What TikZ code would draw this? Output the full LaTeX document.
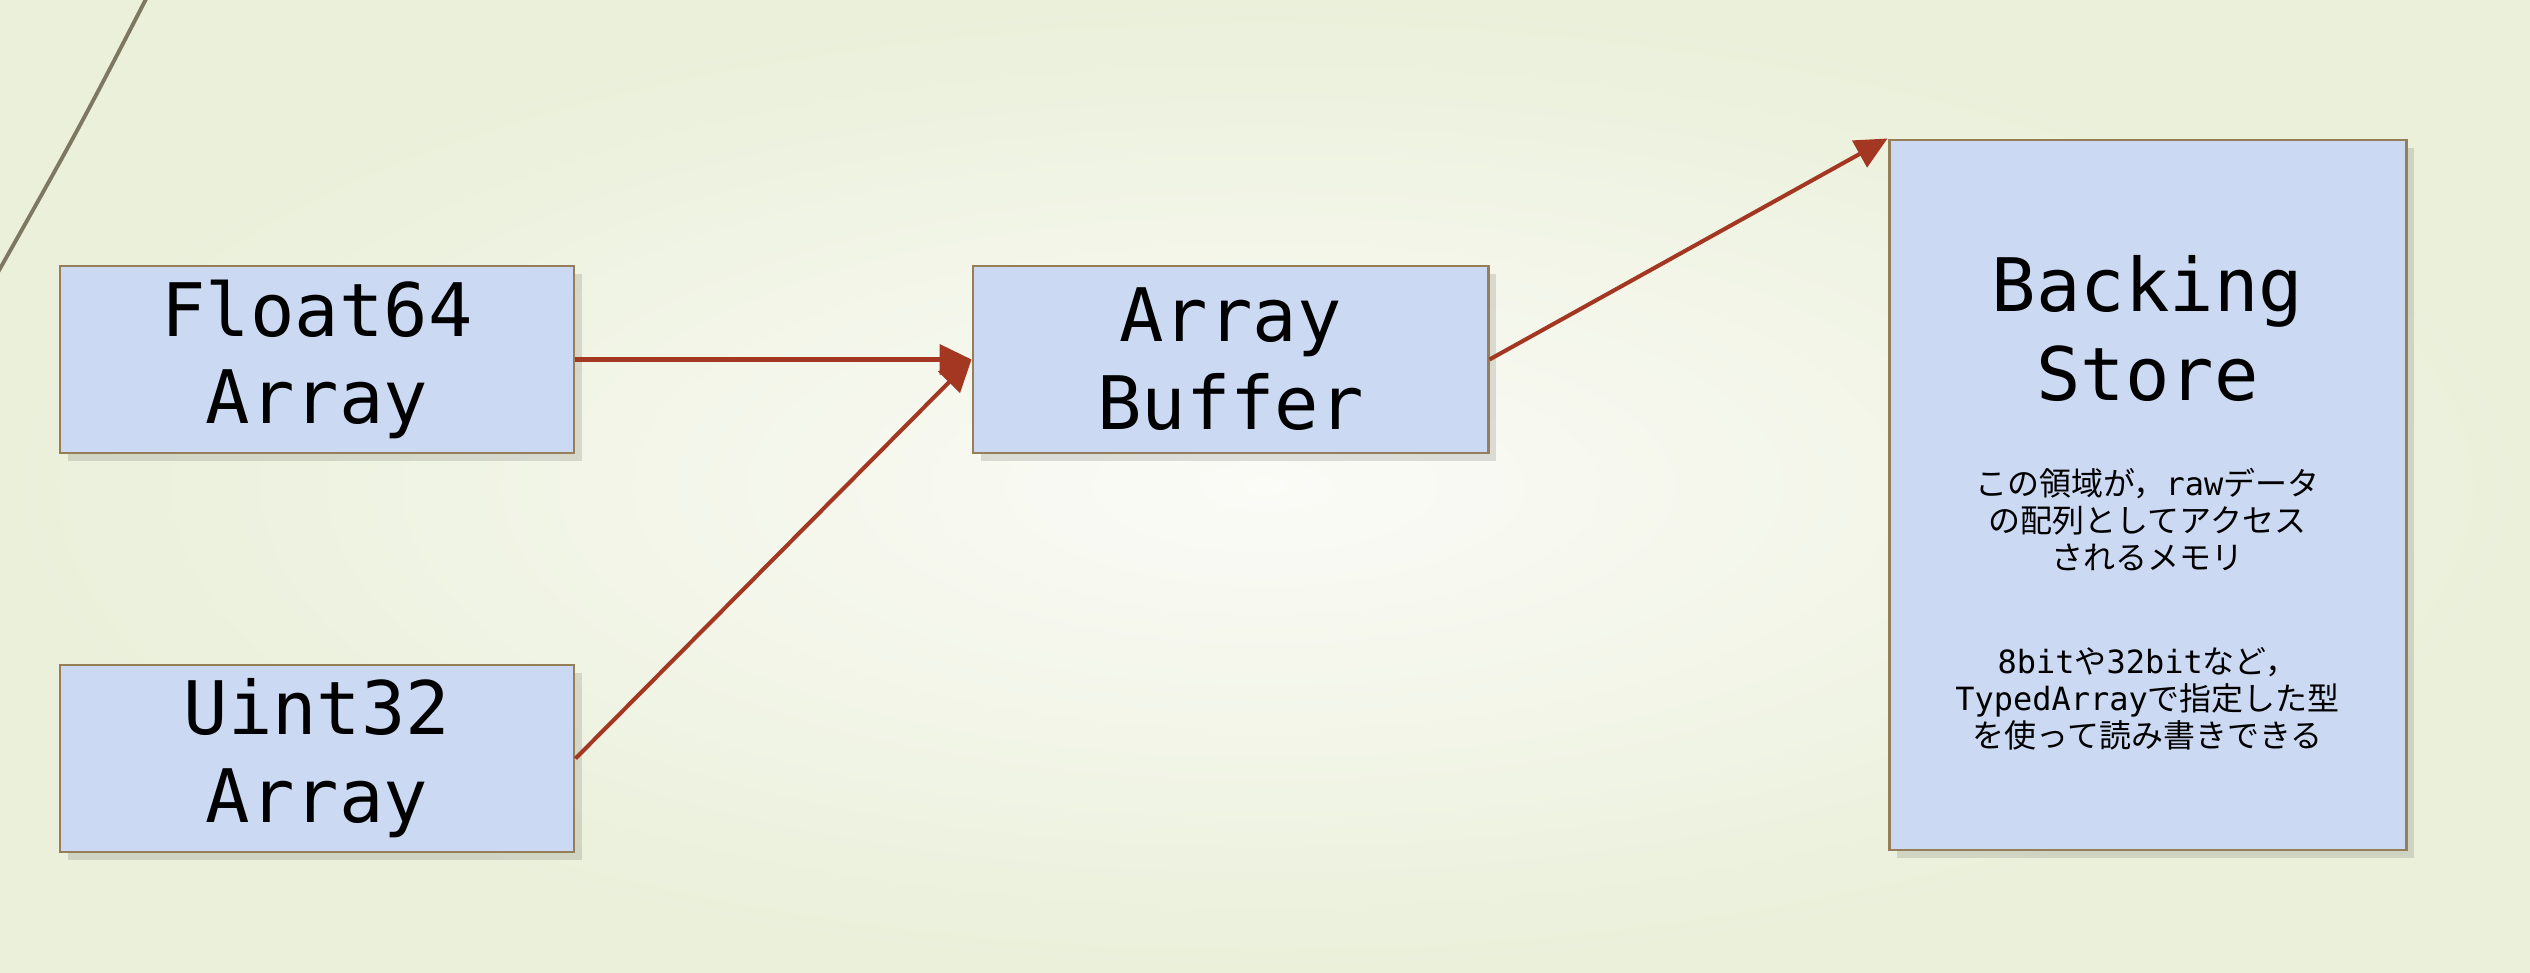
\documentclass[tikz,border=0pt]{standalone}
\usepackage{fontspec}
\setmonofont{DejaVu Sans Mono}
\newfontfamily\cjk{Noto Sans CJK JP}
\usepackage{tikz}
\usetikzlibrary{arrows.meta}
\usetikzlibrary{shadows}
\usetikzlibrary{positioning}
\definecolor{bgin}{RGB}{251,251,247}
\definecolor{bgout}{RGB}{234,240,218}
\definecolor{boxfill}{RGB}{203,217,242}
\definecolor{boxline}{RGB}{150,126,88}
\definecolor{arrowred}{RGB}{163,55,33}
\definecolor{arcline}{RGB}{125,120,98}
\newcommand{\jpt}[1]{{\cjk #1}}
\newcommand{\asc}[1]{{\ttfamily #1}}
\tikzset{
	typebox/.style={draw=boxline,line width=0.85pt,fill=boxfill,align=center,
		minimum width=5.14cm,minimum height=1.87cm,inner sep=0pt,
		font=\ttfamily\fontsize{21}{25}\selectfont,
		drop shadow={shadow xshift=0.08cm,shadow yshift=-0.08cm,opacity=0.17,fill=black!70}}
}
\tikzset{
	link/.style={draw=arrowred,line width=1.15pt,-{Triangle[length=0.32cm,width=0.3cm]}}
}
\tikzset{
	note/.style={align=center,font=\fontsize{9.1}{10.5}\selectfont}
}

\begin{document}
\begin{tikzpicture}
	\useasboundingbox (0,0) rectangle (25.30,9.72);
	\shade[inner color=bgin,outer color=bgout] (0,0) rectangle (25.30,9.72);
	\begin{scope}
		\clip (0,0) rectangle (25.30,9.72);
		\draw[arcline,line width=1.1pt] (1.61,10.02) .. controls (0.8,8.45) .. (-0.16,6.75);
	\end{scope}
	% the typed arrays
	\node[typebox] (f64) at (3.17,6.125) {Float64\\Array};
	\node[typebox] (u32) at (3.17,2.135) {Uint32\\Array};
	\node[typebox,minimum width=5.15cm] (ab) at (12.305,6.125) {Array\\Buffer};
	\node[typebox,minimum width=5.17cm,minimum height=7.10cm] (bs) at (21.475,4.77) {};
	\node[font=\ttfamily\fontsize{21}{25.5}\selectfont,align=center] (bsTitle) at ([yshift=-1.9cm]bs.north) {Backing\\Store};
	\node[note] (bsNoteA) at ([yshift=-3.81cm]bs.north) {\jpt{この領域が，}\asc{raw}\jpt{データ}\\\jpt{の配列としてアクセス}\\\jpt{されるメモリ}};
	\node[note] (bsNoteB) at ([yshift=-5.60cm]bs.north) {\asc{8bit}\jpt{や}\asc{32bit}\jpt{など，}\\\asc{TypedArray}\jpt{で指定した型}\\\jpt{を使って読み書きできる}};
	% arrows
	\draw[link] (f64.east) -- (ab.west);
	\draw[link] (u32.east) -- (ab.west);
	\draw[link] (ab.east) -- (bs.north west);
\end{tikzpicture}
\end{document}
